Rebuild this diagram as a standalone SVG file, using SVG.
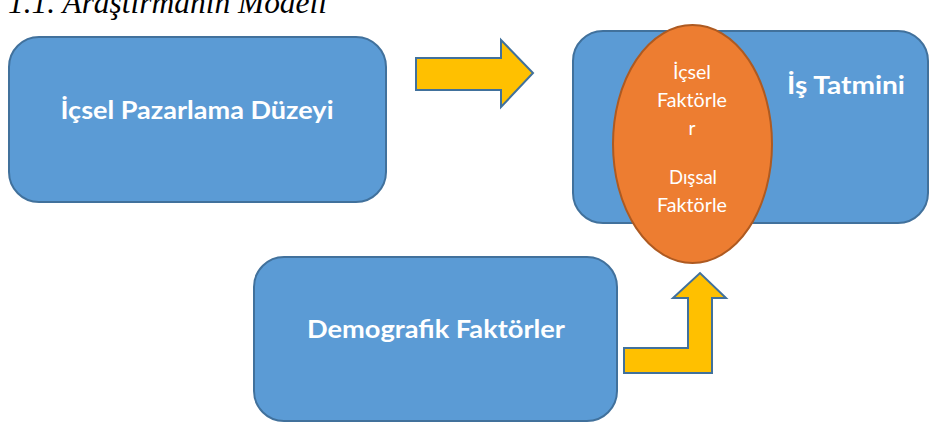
<svg xmlns="http://www.w3.org/2000/svg" width="929" height="423" viewBox="0 0 929 423">
<style>
.box{fill:#5B9BD5;stroke:#41719C;stroke-width:2}
.arrow{fill:#FFC000;stroke:#41719C;stroke-width:2;stroke-linejoin:miter}
.ell{fill:#ED7D31;stroke:#AE5A21;stroke-width:2}
.lbl{font-family:Lato,"Open Sans","Noto Sans",sans-serif;font-weight:bold;font-size:24px;fill:#FFFFFF;text-anchor:middle}
.sm{font-family:Lato,"Open Sans","Noto Sans",sans-serif;font-size:19px;fill:#FFFFFF;text-anchor:middle}
.title{font-family:"Liberation Serif","Times New Roman",serif;font-style:italic;font-size:31px;fill:#000000}
</style>
<rect width="929" height="423" fill="#FFFFFF"/>
<text class="title" x="8" y="13" textLength="319" lengthAdjust="spacingAndGlyphs">1.1. Araştırmanın Modeli</text>
<g id="node-icsel-pazarlama">
<rect class="box" x="9" y="37" width="377" height="165" rx="30" ry="30"/>
<text class="lbl" x="197" y="119" textLength="273" lengthAdjust="spacingAndGlyphs">İçsel Pazarlama Düzeyi</text>
</g>
<g id="node-is-tatmini">
<rect class="box" x="573" y="31" width="355" height="192" rx="30" ry="30"/>
<text class="lbl" x="846" y="94" textLength="118" lengthAdjust="spacingAndGlyphs">İş Tatmini</text>
</g>
<g id="node-faktorler">
<ellipse class="ell" cx="692.5" cy="144" rx="79.5" ry="119"/>
<text class="sm" x="692" y="79" textLength="38" lengthAdjust="spacingAndGlyphs">İçsel</text>
<text class="sm" x="692" y="107" textLength="70" lengthAdjust="spacingAndGlyphs">Faktörle</text>
<text class="sm" x="692" y="135">r</text>
<text class="sm" x="693" y="184" textLength="48" lengthAdjust="spacingAndGlyphs">Dışsal</text>
<text class="sm" x="692" y="212" textLength="70" lengthAdjust="spacingAndGlyphs">Faktörle</text>
</g>
<g id="node-demografik">
<rect class="box" x="254" y="257" width="363" height="164" rx="30" ry="30"/>
<text class="lbl" x="436" y="338" textLength="258" lengthAdjust="spacingAndGlyphs">Demografik Faktörler</text>
</g>
<g id="connectors">
<path class="arrow" d="M416,58 L501,58 L501,40 L533,73 L501,107 L501,90 L416,90 Z"/>
<path class="arrow" d="M624,348 L688,348 L688,298 L673,298 L700,273 L726,298 L712,298 L712,373 L624,373 Z"/>
</g>
</svg>
